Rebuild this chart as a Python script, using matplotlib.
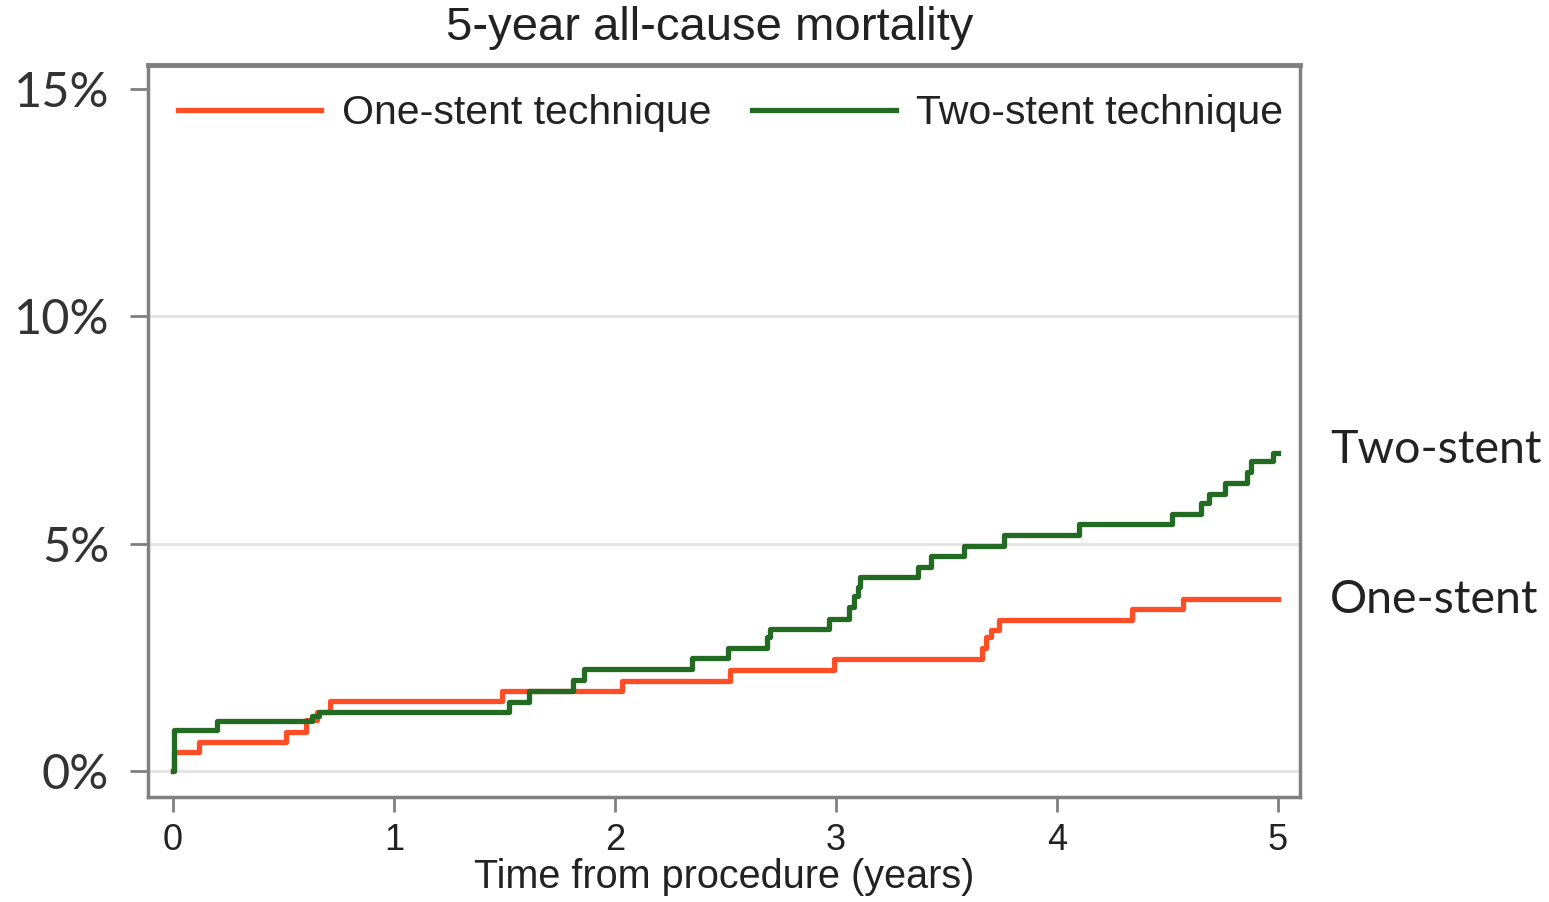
import matplotlib
matplotlib.use("Agg")
import matplotlib.pyplot as plt

# Kaplan-Meier style cumulative mortality (%)
one_t = [0.0, 0.005, 0.12, 0.51, 0.60, 0.65, 0.71, 1.49, 2.03, 2.52, 2.99,
         3.66, 3.68, 3.70, 3.74, 4.34, 4.57, 5.0]
one_y = [0.0, 0.42, 0.64, 0.86, 1.12, 1.30, 1.54, 1.76, 1.98, 2.22, 2.46,
         2.70, 2.94, 3.10, 3.32, 3.56, 3.78, 3.78]

two_t = [0.0, 0.005, 0.20, 0.63, 0.66, 1.52, 1.61, 1.81, 1.86, 2.35, 2.51,
         2.69, 2.70, 2.97, 3.06, 3.08, 3.10, 3.11, 3.37, 3.43, 3.58, 3.76,
         4.10, 4.52, 4.65, 4.69, 4.76, 4.86, 4.88, 4.98, 5.0]
two_y = [0.0, 0.90, 1.10, 1.20, 1.30, 1.52, 1.76, 2.00, 2.24, 2.48, 2.70,
         2.94, 3.12, 3.34, 3.60, 3.85, 4.05, 4.27, 4.49, 4.72, 4.94, 5.18,
         5.43, 5.64, 5.89, 6.10, 6.33, 6.57, 6.81, 6.99, 6.99]

y_ticks = [0, 5, 10, 15]
y_labels = ["0%", "5%", "10%", "15%"]
grid_at = [0, 5, 10]
x_ticks = [0, 1, 2, 3, 4, 5]

red = "#ff4d26"
green = "#236b23"
grey = "#808080"

fig = plt.figure(figsize=(15.49, 9.02), dpi=100)
ax = fig.add_axes([148 / 1549, 105 / 902, 1152 / 1549, 732 / 902])

for y in grid_at:
    ax.axhline(y, color="#e3e3e3", lw=2, zorder=0)

ax.step(one_t, one_y, where="post", color=red, lw=3.8, label="One-stent technique")
ax.step(two_t, two_y, where="post", color=green, lw=3.8, label="Two-stent technique")

ax.set_xlim(-0.113, 5.1)
ax.set_ylim(-0.57, 15.52)

ax.set_yticks(y_ticks)
ax.set_yticklabels(y_labels, family="Lato", fontsize=35, color="#333333")
ax.set_xticks(x_ticks)
ax.set_xticklabels([str(v) for v in x_ticks], family="Liberation Sans",
                   fontsize=26, color="#222222")
ax.tick_params(axis="y", length=13, width=2, color=grey, pad=15)
ax.tick_params(axis="x", length=11, width=2, color=grey, pad=8)

for s in ax.spines.values():
    s.set_color(grey)
    s.set_linewidth(2.5)
ax.spines["top"].set_linewidth(3.5)

ax.set_xlabel("Time from procedure (years)", family="Liberation Sans",
              fontsize=28.5, color="#222222", labelpad=0)

fig.text(710 / 1549, 1 - 28 / 902, "5-year all-cause mortality",
         family="Liberation Sans", fontsize=34, color="#222222",
         ha="center", va="center")

leg = ax.legend(loc="center left", bbox_to_anchor=(30 / 1152, 1 - 48 / 732),
                ncol=2, frameon=False, borderpad=0, borderaxespad=0,
                handlelength=3.5, handletextpad=0.5, columnspacing=1.0,
                prop={"family": "Liberation Sans", "size": 29.5})
for t in leg.get_texts():
    t.set_color("#222222")

ax.text(5.235, 7.05, "Two-stent", family="Lato", fontsize=33.5,
        color="#222222", va="center", ha="left")
ax.text(5.235, 3.76, "One-stent", family="Lato", fontsize=33.5,
        color="#222222", va="center", ha="left")

fig.savefig("out.png", dpi=100)
